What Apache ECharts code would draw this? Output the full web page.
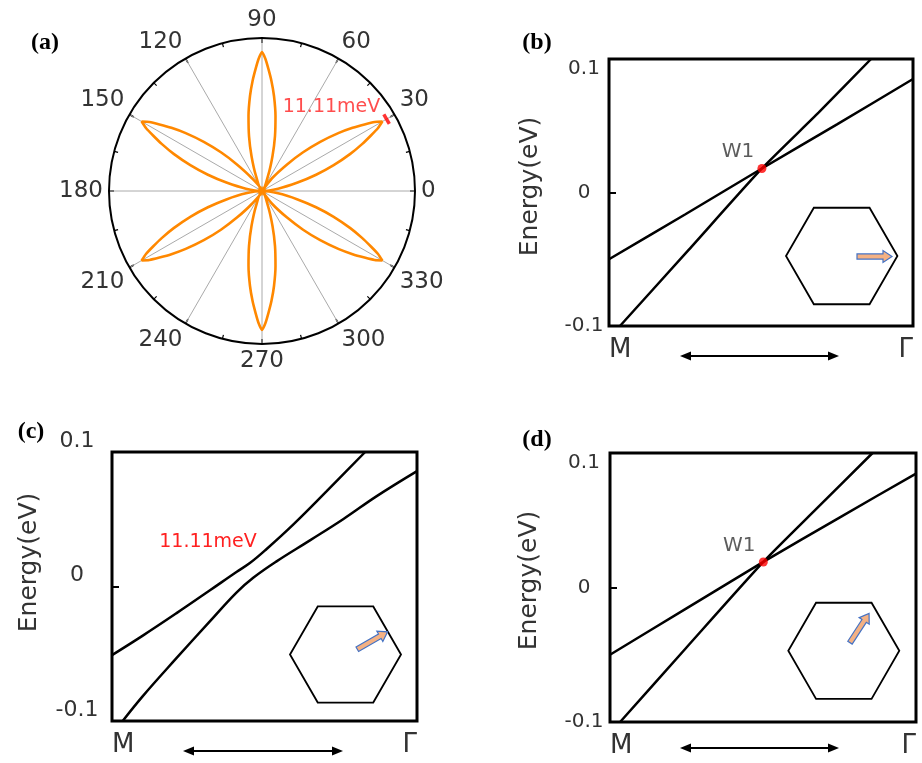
<!DOCTYPE html>
<html>
<head>
<meta charset="utf-8">
<script src="https://cdn.jsdelivr.net/npm/echarts@6/dist/echarts.min.js"></script>
<style>
  html, body { margin: 0; padding: 0; background: #fff; }
  #chart { width: 922px; height: 763px; }
</style>
</head>
<body>
<div id="chart"></div>
<script>
// (a) rose: petal directions and one petal outline
var petalCenters = [30, 90, 150, 210, 270, 330];
var petalOffsets = [21.8, 16.7, 13.3, 10.2, 7.2, 4.9, 3.0, 1.5, 0];
var petalRadii = [0.106, 0.239, 0.369, 0.498, 0.626, 0.722, 0.799, 0.863, 0.908];
var gapMark = [0.94, 30];

// (b) bands along M-Γ, direction 0°
var bSteepX = [0.036, 0.262, 0.503, 0.690, 0.862];
var bSteepY = [-0.1, -0.043, 0.018, 0.060, 0.1];
var bFlatX = [0, 0.25, 0.503, 0.75, 1];
var bFlatY = [-0.050, -0.0165, 0.018, 0.051, 0.085];
var bNode = [0.503, 0.018];

// (c) direction 30°, gapped
var cUpperX = [0, 0.101, 0.2105, 0.320, 0.408, 0.452, 0.507, 0.594, 0.704, 0.830];
var cUpperY = [-0.051, -0.0365, -0.020, -0.003, 0.0108, 0.0174, 0.0279, 0.046, 0.0709, 0.1];
var cLowerX = [0.035, 0.101, 0.2105, 0.320, 0.408, 0.463, 0.5395, 0.649, 0.759, 0.868, 1];
var cLowerY = [-0.1, -0.0815, -0.0535, -0.0261, -0.0045, 0.0065, 0.0187, 0.0343, 0.0502, 0.0672, 0.0858];

// (d) direction 60°
var dSteepX = [0.033, 0.25, 0.501, 0.675, 0.858];
var dSteepY = [-0.1, -0.0446, 0.019, 0.0586, 0.1];
var dFlatX = [0, 0.25, 0.501, 0.75, 1];
var dFlatY = [-0.050, -0.0155, 0.019, 0.052, 0.0847];
var dNode = [0.501, 0.019];

var angleTicks = [0, 360, 30];
var energyTicks = [-0.1, 0.1, 0.1];

var txt = '#333';
var font = 'DejaVu Sans';

function zip(xs, ys) {
    return xs.map(function (x, i) { return [x, ys[i]]; });
}

// petal outline: out along one side, back along the other
var roseData = [];
petalCenters.forEach(function (c) {
    roseData.push([0, c]);
    for (var i = 0; i < petalRadii.length; i++) roseData.push([petalRadii[i], c + petalOffsets[i]]);
    for (var j = petalRadii.length - 2; j >= 0; j--) roseData.push([petalRadii[j], c - petalOffsets[j]]);
    roseData.push([0, c]);
});

var grids = [
    { left: 609, top: 59, width: 304, height: 267, show: true, borderColor: '#000', borderWidth: 3 },
    { left: 112, top: 452, width: 305, height: 269, show: true, borderColor: '#000', borderWidth: 3 },
    { left: 610, top: 453, width: 306, height: 269, show: true, borderColor: '#000', borderWidth: 3 }
];

function xAxisFor(i) {
    return {
        gridIndex: i, type: 'value', min: 0, max: 1, interval: 1,
        axisLine: { show: false }, axisTick: { show: false }, splitLine: { show: false },
        axisLabel: {
            formatter: function (v) { return v === 0 ? 'M' : 'Γ'; },
            fontSize: 26, color: txt, fontFamily: font, margin: 11,
            alignMinLabel: 'left', alignMaxLabel: 'right'
        }
    };
}

function yAxisFor(i, labelMargin, nameGap, namePad, shiftUp) {
    var label = {
        fontSize: shiftUp ? 22 : 20, color: txt, fontFamily: font, margin: labelMargin, align: 'center'
    };
    if (shiftUp) label.verticalAlign = 'bottom';
    else label.verticalAlignMaxLabel = 'top';
    return {
        gridIndex: i, type: 'value', min: energyTicks[0], max: energyTicks[1], interval: energyTicks[2],
        name: 'Energy(eV)', nameLocation: 'middle', nameRotate: 90, nameGap: nameGap,
        nameTextStyle: { fontSize: 25, color: txt, fontFamily: font, padding: [0, 0, 0, namePad] },
        axisLine: { show: false },
        axisTick: { show: true, inside: true, length: 7, lineStyle: { color: '#000', width: 2 } },
        splitLine: { show: false },
        axisLabel: label
    };
}

function band(i, data, smooth) {
    return {
        type: 'line', xAxisIndex: i, yAxisIndex: i, data: data,
        symbol: 'none', smooth: smooth,
        lineStyle: { color: '#000', width: 2.5 }, z: 2
    };
}

function node(i, p) {
    return {
        type: 'scatter', xAxisIndex: i, yAxisIndex: i, data: [p],
        symbolSize: 9, itemStyle: { color: '#ff0000' }, z: 4,
        label: { show: true, formatter: 'W1', position: 'top', offset: [-24, 3],
                 fontSize: 20, color: txt, fontFamily: font }
    };
}

// inset hexagon with direction arrow
function hexagon(cx, cy, r) {
    var pts = [];
    for (var k = 0; k < 6; k++) {
        var a = Math.PI / 3 * k;
        pts.push([cx + r * Math.cos(a), cy - r * Math.sin(a)]);
    }
    return { type: 'polygon', shape: { points: pts }, style: { fill: 'none', stroke: '#000', lineWidth: 1.8 }, z: 10 };
}

function kArrow(x, y, deg) {
    var L = 35;
    return {
        type: 'polygon', x: x, y: y, rotation: deg * Math.PI / 180,
        shape: { points: [[0, -2.6], [L - 9, -2.6], [L - 9, -6], [L, 0], [L - 9, 6], [L - 9, 2.6], [0, 2.6]] },
        style: { fill: '#f4b183', stroke: '#4472c4', lineWidth: 1.2 }, z: 11
    };
}

function doubleArrow(x1, x2, y) {
    return [
        { type: 'line', shape: { x1: x1 + 6, y1: y, x2: x2 - 6, y2: y }, style: { stroke: '#000', lineWidth: 2 }, z: 10 },
        { type: 'polygon', shape: { points: [[x1, y], [x1 + 11, y - 4.5], [x1 + 11, y + 4.5]] }, style: { fill: '#000' }, z: 10 },
        { type: 'polygon', shape: { points: [[x2, y], [x2 - 11, y - 4.5], [x2 - 11, y + 4.5]] }, style: { fill: '#000' }, z: 10 }
    ];
}

function panelTag(t, x, y) {
    return {
        type: 'text', z: 10,
        style: { text: t, x: x, y: y, font: 'bold 24px "Liberation Serif"', fill: '#000',
                 align: 'center', verticalAlign: 'middle', textAlign: 'center', textVerticalAlign: 'middle' }
    };
}

var graphics = [
    panelTag('(a)', 45, 43), panelTag('(b)', 537, 43), panelTag('(c)', 31, 432), panelTag('(d)', 537, 440),
    hexagon(841.7, 256, 55.7), kArrow(857, 256.5, 0),
    hexagon(345.5, 654.5, 55.5), kArrow(357.3, 649.3, 30),
    hexagon(843.8, 650.8, 55.5), kArrow(850, 642.7, 57),
    {
        type: 'text', z: 10,
        style: { text: '11.11meV', x: 208, y: 542, font: '19px "DejaVu Sans"', fill: '#ff2020',
                 align: 'center', verticalAlign: 'middle', textAlign: 'center', textVerticalAlign: 'middle' }
    }
].concat(doubleArrow(680, 839, 356), doubleArrow(183, 343, 751), doubleArrow(680, 839, 748));

var chart = echarts.init(document.getElementById('chart'));

var option = {
    animation: false,
    backgroundColor: '#fff',
    polar: { center: [262, 191], radius: 153 },
    angleAxis: {
        type: 'value', min: angleTicks[0], max: angleTicks[1], interval: angleTicks[2],
        startAngle: 0, clockwise: false,
        axisLine: { lineStyle: { color: '#000', width: 2 } },
        axisTick: { show: true, inside: true, length: 5, lineStyle: { color: '#000', width: 1.5 } },
        minorTick: { show: true, splitNumber: 2, length: 4, lineStyle: { color: '#000', width: 1.2 } },
        splitLine: { show: true, lineStyle: { color: '#aaa', width: 1 } },
        axisLabel: { fontSize: 23, color: txt, fontFamily: font, margin: 6 }
    },
    radiusAxis: {
        type: 'value', min: 0, max: 1,
        axisLine: { show: false }, axisTick: { show: false }, axisLabel: { show: false }, splitLine: { show: false }
    },
    grid: grids,
    xAxis: [xAxisFor(0), xAxisFor(1), xAxisFor(2)],
    yAxis: [
        yAxisFor(0, 25, 66, 12, false),
        yAxisFor(1, 35, 70, 48, true),
        yAxisFor(2, 26, 68, 14, false)
    ],
    series: [
        {
            type: 'line', coordinateSystem: 'polar', data: roseData, symbol: 'none', smooth: 0.2,
            lineStyle: { color: '#ff8800', width: 2.6 }, z: 2
        },
        {
            type: 'scatter', coordinateSystem: 'polar', data: [[0, 0]], symbolSize: 9,
            itemStyle: { color: '#ff8800' }, z: 3
        },
        {
            type: 'scatter', coordinateSystem: 'polar', data: [gapMark],
            symbol: 'rect', symbolSize: [3.5, 11], symbolRotate: 30,
            itemStyle: { color: '#ff0000' }, z: 4,
            label: { show: true, formatter: '11.11meV', position: 'left', offset: [3, -12],
                     fontSize: 19, color: '#ff2020', fontFamily: font }
        },
        band(0, zip(bSteepX, bSteepY), 0.2), band(0, zip(bFlatX, bFlatY), 0.2), node(0, bNode),
        band(1, zip(cUpperX, cUpperY), 0.4), band(1, zip(cLowerX, cLowerY), 0.4),
        band(2, zip(dSteepX, dSteepY), 0.2), band(2, zip(dFlatX, dFlatY), 0.2), node(2, dNode)
    ],
    graphic: graphics
};

chart.setOption(option);
</script>
</body>
</html>
